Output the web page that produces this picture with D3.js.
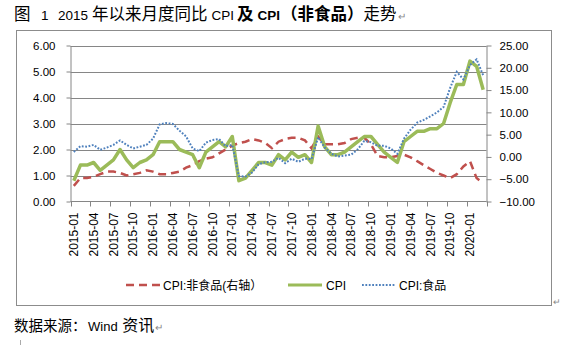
<!DOCTYPE html>
<html><head><meta charset="utf-8">
<script src="https://cdn.jsdelivr.net/npm/d3@7"></script>
<style>body{margin:0;background:#fff;} svg{display:block;} text{font-family:"Liberation Sans","Noto Sans CJK SC",sans-serif;}</style>
</head><body><svg id="c" width="570" height="345"></svg>
<script>
const categories = ["2015-01","2015-02","2015-03","2015-04","2015-05","2015-06","2015-07","2015-08","2015-09","2015-10","2015-11","2015-12",
"2016-01","2016-02","2016-03","2016-04","2016-05","2016-06","2016-07","2016-08","2016-09","2016-10","2016-11","2016-12",
"2017-01","2017-02","2017-03","2017-04","2017-05","2017-06","2017-07","2017-08","2017-09","2017-10","2017-11","2017-12",
"2018-01","2018-02","2018-03","2018-04","2018-05","2018-06","2018-07","2018-08","2018-09","2018-10","2018-11","2018-12",
"2019-01","2019-02","2019-03","2019-04","2019-05","2019-06","2019-07","2019-08","2019-09","2019-10","2019-11","2019-12",
"2020-01","2020-02","2020-03"];
const tickLabels = ["2015-01","2015-04","2015-07","2015-10","2016-01","2016-04","2016-07","2016-10","2017-01","2017-04","2017-07","2017-10",
"2018-01","2018-04","2018-07","2018-10","2019-01","2019-04","2019-07","2019-10","2020-01"];
const cpi = [0.8,1.4,1.4,1.5,1.2,1.4,1.6,2.0,1.6,1.3,1.5,1.6,
1.8,2.3,2.3,2.3,2.0,1.9,1.8,1.3,1.9,2.1,2.3,2.1,
2.5,0.8,0.9,1.2,1.5,1.5,1.4,1.8,1.6,1.9,1.7,1.8,
1.5,2.9,2.1,1.8,1.8,1.9,2.1,2.3,2.5,2.5,2.2,1.9,
1.7,1.5,2.3,2.5,2.7,2.7,2.8,2.8,3.0,3.8,4.5,4.5,
5.4,5.2,4.3];
const nonFood = [0.6,0.9,0.9,0.95,1.05,1.15,1.15,1.1,1.0,1.05,1.1,1.2,
1.15,1.05,1.05,1.1,1.15,1.3,1.4,1.55,1.65,1.7,1.85,2.0,
2.15,2.25,2.3,2.4,2.35,2.25,2.05,2.3,2.4,2.45,2.45,2.35,
2.05,2.5,2.2,2.2,2.2,2.25,2.4,2.45,2.45,2.2,1.75,1.7,
1.7,1.75,1.8,1.7,1.55,1.4,1.25,1.1,1.0,0.9,1.05,1.35,
1.55,0.9,0.7];
const food = [1.1,2.4,2.3,2.7,1.6,2.1,2.7,3.7,2.7,1.9,2.3,2.7,
4.1,7.3,7.6,7.4,5.9,4.6,1.9,1.3,3.2,3.8,4.0,2.4,
2.7,-4.3,-4.4,-3.5,-1.6,-1.2,-1.1,-0.2,-1.4,-0.4,-1.1,-0.4,
-0.5,4.4,2.1,0.7,0.1,0.3,0.5,1.7,3.6,3.3,2.5,2.5,
1.9,0.7,4.1,6.1,7.7,8.3,9.1,10.0,11.2,15.5,19.1,17.4,
20.6,21.9,18.3];
const leftTicks = [0,1,2,3,4,5,6];
const rightTicks = [-10,-5,0,5,10,15,20,25];
const seriesNames = ["CPI:非食品(右轴）","CPI","CPI:食品"];

const svg = d3.select("#c");
const L = 70.5, R = 486.5, T = 45.5, B = 201.5;
const grey = "#868686";

// chart frame
svg.append("rect").attr("x",16.5).attr("y",30.5).attr("width",535).attr("height",275)
  .attr("fill","none").attr("stroke","#8c8c8c");

const x = d3.scaleBand().domain(categories).range([L, R]);
const cx = d => x(d) + x.bandwidth()/2;
const yL = d3.scaleLinear().domain([0,6]).range([B, T]);
const yR = d3.scaleLinear().domain([-10,25]).range([B, T]);

// gridlines
svg.append("g").selectAll("line").data(leftTicks.filter(t=>t>0)).join("line")
  .attr("x1",L).attr("x2",R).attr("y1",d=>Math.round(yL(d))+0.5).attr("y2",d=>Math.round(yL(d))+0.5)
  .attr("stroke",grey).attr("stroke-width",1);

// left axis
const gl = svg.append("g").attr("transform",`translate(${L},0)`)
  .call(d3.axisLeft(yL).tickValues(leftTicks).tickFormat(d3.format(".2f")).tickSize(4).tickSizeOuter(0).tickPadding(11));
gl.select(".domain").attr("stroke",grey);
gl.selectAll(".tick line").attr("stroke",grey);
gl.selectAll("text").attr("font-size","11.5px").attr("fill","#000").style("font-family","Liberation Sans");

// right axis
const gr = svg.append("g").attr("transform",`translate(${R},0)`)
  .call(d3.axisRight(yR).tickValues(rightTicks).tickFormat(d3.format(".2f")).tickSize(5).tickSizeOuter(0).tickPadding(8));
gr.select(".domain").attr("stroke",grey);
gr.selectAll(".tick line").attr("stroke",grey);
gr.selectAll("text").attr("font-size","11.5px").attr("fill","#000").style("font-family","Liberation Sans");

// x axis
svg.append("line").attr("x1",L).attr("x2",R).attr("y1",B).attr("y2",B).attr("stroke",grey);
const bounds = tickLabels.map(c => x(c)).concat([R]);
svg.append("g").selectAll("line").data(bounds).join("line")
  .attr("x1",d=>Math.round(d)+0.5).attr("x2",d=>Math.round(d)+0.5).attr("y1",B).attr("y2",B+5)
  .attr("stroke",grey);
svg.append("g").selectAll("text").data(tickLabels).join("text")
  .attr("transform",d=>`translate(${cx(d)},${B+11}) rotate(-90)`)
  .attr("text-anchor","end").attr("dy","0.35em")
  .attr("font-size","12px").attr("fill","#000").style("font-family","Liberation Sans")
  .text(d=>d);

// series
const lineL = d3.line().x((d,i)=>cx(categories[i])).y(d=>yL(d));
const lineR = d3.line().x((d,i)=>cx(categories[i])).y(d=>yR(d));
svg.append("path").datum(nonFood).attr("d",lineL).attr("fill","none")
  .attr("stroke","#C0504D").attr("stroke-width",2.5).attr("stroke-dasharray","8,5");
svg.append("path").datum(cpi).attr("d",lineL).attr("fill","none")
  .attr("stroke","#9BBB59").attr("stroke-width",3.5).attr("stroke-linejoin","round");
svg.append("path").datum(food).attr("d",lineR).attr("fill","none")
  .attr("stroke","#4F81BD").attr("stroke-width",2).attr("stroke-dasharray","1.8,1.6");

// legend
const leg = [
  {name:seriesNames[0], x1:126, x2:160, tx:163, color:"#C0504D", w:2.5, dash:"8,5"},
  {name:seriesNames[1], x1:288, x2:322, tx:326, color:"#9BBB59", w:3, dash:null},
  {name:seriesNames[2], x1:362, x2:395, tx:399, color:"#4F81BD", w:2, dash:"1.8,1.6"}
];
const lg = svg.append("g");
leg.forEach(l=>{
  lg.append("line").attr("x1",l.x1).attr("x2",l.x2).attr("y1",285).attr("y2",285)
    .attr("stroke",l.color).attr("stroke-width",l.w).attr("stroke-dasharray",l.dash);
  lg.append("text").attr("x",l.tx).attr("y",289.5).attr("font-size","12px").attr("fill","#000").text(l.name);
});

// title (flowing text)
const t = svg.append("text").attr("x",14).attr("y",19.5).attr("font-size","16.5px").attr("fill","#000");
t.append("tspan").text("图");
t.append("tspan").attr("dx",10.5).attr("font-size","13.5px").text("1");
t.append("tspan").attr("dx",9.5).attr("font-size","13.5px").text("2015");
t.append("tspan").attr("dx",4).text("年以来月度同比");
t.append("tspan").attr("dx",4).attr("font-size","13.5px").text("CPI");
t.append("tspan").attr("dx",3).attr("font-weight","bold").text("及");
t.append("tspan").attr("dx",4).attr("font-size","13.5px").attr("font-weight","bold").text("CPI");
t.append("tspan").attr("dx",1).attr("font-weight","bold").text("（非食品）");
t.append("tspan").text("走势");
t.append("tspan").attr("dx",1).attr("font-size","10px").attr("fill","#888").text("↵");

// source
const s = svg.append("text").attr("x",14).attr("y",331).attr("font-size","14.5px").attr("fill","#000");
s.append("tspan").text("数据来源：");
s.append("tspan").attr("dx",1.5).attr("font-size","13px").text("Wind");
s.append("tspan").attr("dx",4.5).attr("font-size","16px").text("资讯");
s.append("tspan").attr("dx",1).attr("font-size","10px").attr("fill","#888").text("↵");

svg.append("text").attr("x",553).attr("y",305).attr("font-size","9px").attr("fill","#888").text("↵");
svg.append("line").attr("x1",20.5).attr("x2",20.5).attr("y1",340).attr("y2",345).attr("stroke","#aaa");
</script></body></html>
